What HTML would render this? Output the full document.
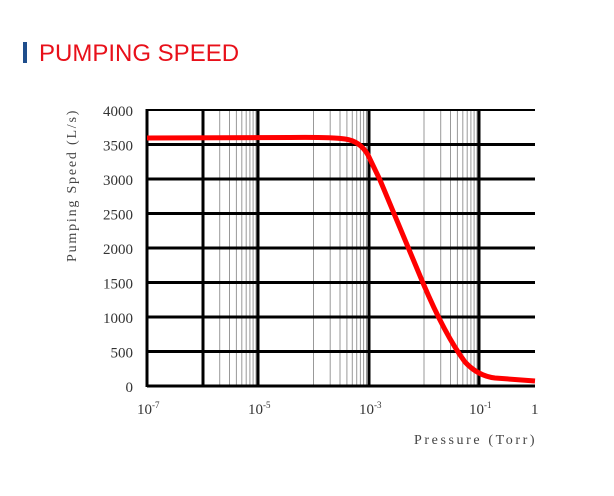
<!DOCTYPE html>
<html><head><meta charset="utf-8"><style>
html,body{margin:0;padding:0;background:#fff;}
body{width:614px;height:496px;overflow:hidden;position:relative;}
</style></head><body>
<svg width="614" height="496" xmlns="http://www.w3.org/2000/svg" style="position:absolute;left:0;top:0">
<rect x="23" y="42" width="4" height="21" fill="#1f4e8c"/>
<text x="39" y="61" font-family="Liberation Sans, sans-serif" font-size="24" fill="#e8101a">PUMPING SPEED</text>
<g stroke="#999" stroke-width="1">
<line x1="219.7" y1="110" x2="219.7" y2="386"/><line x1="229.5" y1="110" x2="229.5" y2="386"/><line x1="236.4" y1="110" x2="236.4" y2="386"/><line x1="241.8" y1="110" x2="241.8" y2="386"/><line x1="246.2" y1="110" x2="246.2" y2="386"/><line x1="249.9" y1="110" x2="249.9" y2="386"/><line x1="253.1" y1="110" x2="253.1" y2="386"/><line x1="256" y1="110" x2="256" y2="386"/>
<line x1="313.5" y1="110" x2="313.5" y2="386"/><line x1="330.2" y1="110" x2="330.2" y2="386"/><line x1="340" y1="110" x2="340" y2="386"/><line x1="346.9" y1="110" x2="346.9" y2="386"/><line x1="352.3" y1="110" x2="352.3" y2="386"/><line x1="356.7" y1="110" x2="356.7" y2="386"/><line x1="360.4" y1="110" x2="360.4" y2="386"/><line x1="363.6" y1="110" x2="363.6" y2="386"/><line x1="366.5" y1="110" x2="366.5" y2="386"/>
<line x1="424" y1="110" x2="424" y2="386"/><line x1="440.7" y1="110" x2="440.7" y2="386"/><line x1="450.5" y1="110" x2="450.5" y2="386"/><line x1="457.4" y1="110" x2="457.4" y2="386"/><line x1="462.8" y1="110" x2="462.8" y2="386"/><line x1="467.2" y1="110" x2="467.2" y2="386"/><line x1="470.9" y1="110" x2="470.9" y2="386"/><line x1="474.1" y1="110" x2="474.1" y2="386"/><line x1="477" y1="110" x2="477" y2="386"/>
</g>
<g stroke="#000" stroke-width="3">
<line x1="147" y1="110" x2="535" y2="110" stroke-width="2"/>
<line x1="147" y1="144.5" x2="535" y2="144.5"/>
<line x1="147" y1="179" x2="535" y2="179"/>
<line x1="147" y1="213.5" x2="535" y2="213.5"/>
<line x1="147" y1="248" x2="535" y2="248"/>
<line x1="147" y1="282.5" x2="535" y2="282.5"/>
<line x1="147" y1="317" x2="535" y2="317"/>
<line x1="147" y1="351.5" x2="535" y2="351.5"/>
<line x1="147" y1="386" x2="535" y2="386"/>
<line x1="147" y1="109" x2="147" y2="387"/>
<line x1="203" y1="109" x2="203" y2="387"/>
<line x1="258" y1="109" x2="258" y2="387"/>
<line x1="369" y1="109" x2="369" y2="387"/>
<line x1="479" y1="109" x2="479" y2="387"/>
</g>
<path d="M147,138 L290,137.5 Q330,137 345,139 Q360,141 368,155 L380,180 L423,283 Q445,335 465,362 Q478,376 495,378 L535,381" fill="none" stroke="#f00" stroke-width="5" stroke-linejoin="round"/>
<g font-family="Liberation Serif, serif" font-size="15" fill="#333" text-anchor="end">
<text x="133" y="116">4000</text><text x="133" y="150.5">3500</text><text x="133" y="185">3000</text><text x="133" y="219.5">2500</text><text x="133" y="254">2000</text><text x="133" y="288.5">1500</text><text x="133" y="323">1000</text><text x="133" y="357.5">500</text><text x="133" y="392">0</text>
</g>
<g font-family="Liberation Serif, serif" font-size="15" fill="#333">
<text x="137" y="414">10<tspan font-size="9" dy="-6">-7</tspan></text>
<text x="248" y="414">10<tspan font-size="9" dy="-6">-5</tspan></text>
<text x="359" y="414">10<tspan font-size="9" dy="-6">-3</tspan></text>
<text x="469" y="414">10<tspan font-size="9" dy="-6">-1</tspan></text>
<text x="531" y="414">1</text>
</g>
<text x="414" y="444" font-family="Liberation Serif, serif" font-size="14" letter-spacing="2.6" fill="#444">Pressure (Torr)</text>
<text transform="translate(76,262) rotate(-90)" font-family="Liberation Serif, serif" font-size="14" letter-spacing="1.8" fill="#444">Pumping Speed (L/s)</text>
</svg>
</body></html>
